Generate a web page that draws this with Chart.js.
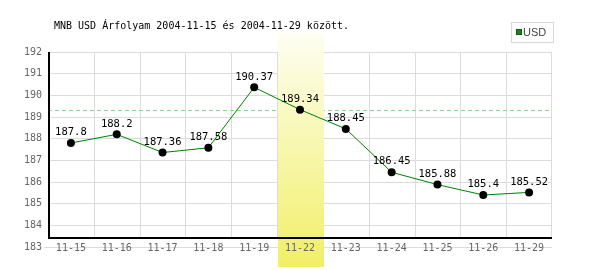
<!DOCTYPE html>
<html>
<head>
<meta charset="utf-8">
<script src="https://cdn.jsdelivr.net/npm/chart.js@4.4.1/dist/chart.umd.min.js"></script>
<style>
html,body{margin:0;padding:0;background:#fff;}
#wrap{width:600px;height:270px;position:relative;}
canvas{display:block;}
</style>
</head>
<body>
<div id="wrap"><canvas id="c" width="600" height="270"></canvas></div>
<script>
// ---- data ----
const chartTitle = 'MNB USD Árfolyam 2004-11-15 és 2004-11-29 között.';
const seriesName = 'USD';
const categories = ['11-15','11-16','11-17','11-18','11-19','11-22','11-23','11-24','11-25','11-26','11-29'];
const values = [187.8, 188.2, 187.36, 187.58, 190.37, 189.34, 188.45, 186.45, 185.88, 185.4, 185.52];
const yTickValues = [183, 184, 185, 186, 187, 188, 189, 190, 191, 192];
const highlightIndex = 5;

// ---- style ----
const MONO = 'DejaVu Sans Mono';
const axisBaseValue = 183.4;
const gridColor = '#dcdcdc';
const tickColor = '#666666';
const lineColor = '#008000';

Chart.defaults.font.family = MONO;

const deco = {
  id: 'deco',
  beforeDraw(chart) {
    const ctx = chart.ctx;
    ctx.save();
    ctx.fillStyle = '#fff';
    ctx.fillRect(0, 0, chart.width, chart.height);
    ctx.restore();
  },
  beforeDatasetsDraw(chart) {
    const {ctx, chartArea: a, scales: {x, y}} = chart;
    const half = (x.getPixelForValue(1) - x.getPixelForValue(0)) / 2;
    const base = Math.round(y.getPixelForValue(axisBaseValue));
    ctx.save();
    // vertical grid lines at category boundaries
    ctx.strokeStyle = gridColor;
    ctx.lineWidth = 1;
    for (let i = 1; i <= categories.length; i++) {
      let px = Math.round(x.getPixelForValue(i - 1) + half) + 0.5;
      if (i === categories.length) px = Math.round(a.right) - 0.5;
      ctx.beginPath();
      ctx.moveTo(px, a.top);
      ctx.lineTo(px, base);
      ctx.stroke();
    }
    // reference dashed line at highlighted value
    const ry = Math.round(y.getPixelForValue(values[highlightIndex])) + 0.5;
    ctx.strokeStyle = '#8fd18f';
    ctx.setLineDash([4, 3]);
    ctx.beginPath();
    ctx.moveTo(a.left, ry);
    ctx.lineTo(a.right - 3, ry);
    ctx.stroke();
    ctx.setLineDash([]);
    // highlight band
    const b0 = Math.round(x.getPixelForValue(highlightIndex) - half) + 1;
    const b1 = Math.round(x.getPixelForValue(highlightIndex) + half) + 1;
    const top = 33, bottom = 267;
    const g = ctx.createLinearGradient(0, top, 0, bottom);
    g.addColorStop(0, '#fefef2');
    g.addColorStop(1, '#f1ef66');
    ctx.fillStyle = g;
    ctx.fillRect(b0, top, b1 - b0, bottom - top);
    // axis lines
    ctx.strokeStyle = '#000';
    ctx.lineWidth = 2;
    ctx.beginPath();
    ctx.moveTo(a.left + 1, a.top);
    ctx.lineTo(a.left + 1, base + 1);
    ctx.moveTo(a.left, base);
    ctx.lineTo(a.right, base);
    ctx.stroke();
    ctx.restore();
  },
  afterDatasetsDraw(chart) {
    const ctx = chart.ctx;
    const meta = chart.getDatasetMeta(0);
    ctx.save();
    ctx.fillStyle = '#000';
    ctx.font = '10.5px ' + MONO;
    ctx.textAlign = 'center';
    ctx.textBaseline = 'middle';
    meta.data.forEach((pt, i) => {
      ctx.fillText(String(values[i]), pt.x, pt.y - 10.5);
    });
    ctx.restore();
  },
  afterDraw(chart) {
    const ctx = chart.ctx;
    ctx.save();
    // title
    ctx.fillStyle = '#000';
    ctx.font = '10px ' + MONO;
    ctx.textAlign = 'left';
    ctx.textBaseline = 'alphabetic';
    ctx.fillText(chartTitle, 54, 29);
    // legend box
    ctx.strokeStyle = '#d8d8d8';
    ctx.lineWidth = 1;
    ctx.fillStyle = '#fff';
    ctx.fillRect(511.5, 22.5, 42, 20);
    ctx.strokeRect(511.5, 22.5, 42, 20);
    ctx.fillStyle = '#108a10';
    ctx.fillRect(516, 29, 6, 6);
    ctx.strokeStyle = '#1f4f1f';
    ctx.strokeRect(516.5, 29.5, 5, 5);
    ctx.fillStyle = '#444';
    ctx.font = '11px "Liberation Sans Narrow", "Liberation Sans", Arial, sans-serif';
    ctx.textBaseline = 'middle';
    ctx.fillText(seriesName, 523, 32.5);
    ctx.restore();
  }
};

new Chart(document.getElementById('c'), {
  type: 'line',
  data: {
    labels: categories,
    datasets: [{
      label: seriesName,
      data: values,
      borderColor: lineColor,
      borderWidth: 1,
      tension: 0,
      fill: false,
      pointRadius: 4,
      pointBackgroundColor: '#000',
      pointBorderColor: '#000',
      pointBorderWidth: 0
    }]
  },
  options: {
    responsive: false,
    animation: false,
    events: [],
    layout: {padding: {top: 52, right: 48, bottom: 23, left: 0}},
    plugins: {legend: {display: false}, tooltip: {enabled: false}, title: {display: false}},
    scales: {
      x: {
        type: 'category',
        offset: true,
        grid: {display: false},
        border: {display: false},
        ticks: {z: 1, mirror: true, color: tickColor, font: {family: MONO, size: 10}, padding: -7.5, maxRotation: 0, autoSkip: false},
        afterFit(s) { s.height = 0; }
      },
      y: {
        min: 183,
        max: 192,
        afterBuildTicks(s) { s.ticks = yTickValues.map(v => ({value: v})); },
        grid: {
          color: gridColor,
          lineWidth: 1,
          tickLength: 4,
          tickColor: c => (c.tick && c.tick.value === 183) ? gridColor : 'rgba(0,0,0,0)'
        },
        border: {display: false},
        ticks: {color: tickColor, font: {family: MONO, size: 10}, padding: 2},
        afterFit(s) { s.width = 48; }
      }
    }
  },
  plugins: [deco]
});
</script>
</body>
</html>
